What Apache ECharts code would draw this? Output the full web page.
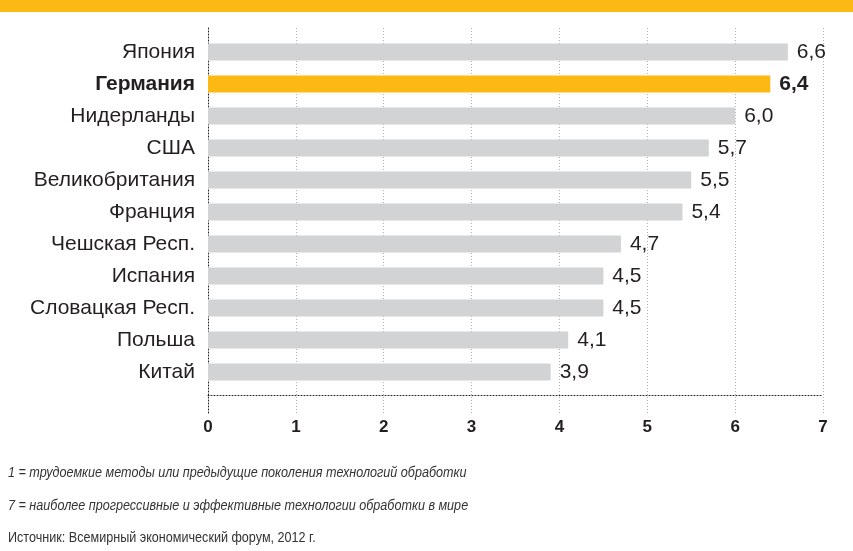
<!DOCTYPE html>
<html>
<head>
<meta charset="utf-8">
<script src="https://cdn.jsdelivr.net/npm/echarts@6/dist/echarts.min.js"></script>
<style>
  html, body { margin: 0; padding: 0; background: #fff; }
  #chart { width: 853px; height: 551px; }
</style>
</head>
<body>
<div id="chart"></div>
<script>
var countries = ['Япония', 'Германия', 'Нидерланды', 'США', 'Великобритания', 'Франция',
    'Чешская Респ.', 'Испания', 'Словацкая Респ.', 'Польша', 'Китай'];
var scores = [6.6, 6.4, 6.0, 5.7, 5.5, 5.4, 4.7, 4.5, 4.5, 4.1, 3.9];
var highlight = 'Германия';
var xTicks = [0, 1, 2, 3, 4, 5, 6, 7];
var notes = [
    '1 = трудоемкие методы или предыдущие поколения технологий обработки',
    '7 = наиболее прогрессивные и эффективные технологии обработки в мире',
    'Источник: Всемирный экономический форум, 2012 г.'
];

var orange = '#fdb913';
var grey = '#d1d3d4';
var font = 'Liberation Sans, Arial, sans-serif';

var myChart = echarts.init(document.getElementById('chart'));

var barData = scores.map(function (v, i) {
    var hi = countries[i] === highlight;
    return {
        value: v,
        itemStyle: { color: hi ? orange : grey },
        label: { fontWeight: hi ? 'bold' : 'normal' }
    };
});

// footnotes: slightly condensed via scaleX
function note(text, y, italic) {
    return {
        type: 'text', x: 8, y: y, scaleX: 0.9, scaleY: 1,
        style: {
            text: text, fill: '#333', font: (italic ? 'italic ' : '') + '14px ' + font,
            textVerticalAlign: 'middle', verticalAlign: 'middle'
        }
    };
}

var option = {
    animation: false,
    backgroundColor: '#fff',
    textStyle: { fontFamily: font },
    graphic: [
        { type: 'rect', shape: { x: 0, y: 0, width: 853, height: 12 }, style: { fill: orange }, z: 10 },
        note(notes[0], 473, true),
        note(notes[1], 506, true),
        note(notes[2], 538, false)
    ],
    grid: [
        { left: 208, right: 30, top: 36, height: 352, containLabel: false },
        { left: 208, right: 30, top: 28, height: 385, containLabel: false }
    ],
    xAxis: [
        {
            gridIndex: 0,
            type: 'value', min: 0, max: 7, interval: 1,
            offset: 7,
            axisLine: { show: true, lineStyle: { color: '#222', type: [1, 2], width: 1 } },
            axisTick: { show: false },
            splitLine: { show: false },
            axisLabel: {
                margin: 24, fontSize: 17, fontWeight: 'bold', color: '#231f20',
                formatter: function (v) { return xTicks.indexOf(v) >= 0 ? String(v) : ''; }
            }
        },
        {
            gridIndex: 1,
            type: 'value', min: 0, max: 7, interval: 1,
            axisLine: { show: false },
            axisTick: { show: false },
            axisLabel: { show: false },
            splitLine: { show: true, lineStyle: { color: '#b0b0b0', type: [1, 2], width: 1 } }
        }
    ],
    yAxis: [
        {
            gridIndex: 0,
            type: 'category', inverse: true,
            data: countries,
            axisLine: { show: false },
            axisTick: { show: false },
            axisLabel: {
                margin: 13, fontSize: 21, color: '#231f20',
                formatter: function (v) { return v === highlight ? '{b|' + v + '}' : v; },
                rich: { b: { fontSize: 21, fontWeight: 'bold', color: '#231f20' } }
            }
        },
        {
            gridIndex: 1,
            type: 'value', min: 0, max: 1,
            axisLine: { show: true, lineStyle: { color: '#222', type: [1, 2], width: 1 } },
            axisTick: { show: false },
            axisLabel: { show: false },
            splitLine: { show: false }
        }
    ],
    series: [
        {
            type: 'bar',
            xAxisIndex: 0, yAxisIndex: 0,
            data: barData,
            barWidth: 17,
            z: 3,
            label: {
                show: true, position: 'right', distance: 9,
                fontSize: 21, color: '#231f20',
                formatter: function (p) { return p.value.toFixed(1).replace('.', ','); }
            }
        }
    ]
};

myChart.setOption(option);
window.addEventListener('resize', function () {
    myChart.resize();
});
</script>
</body>
</html>
